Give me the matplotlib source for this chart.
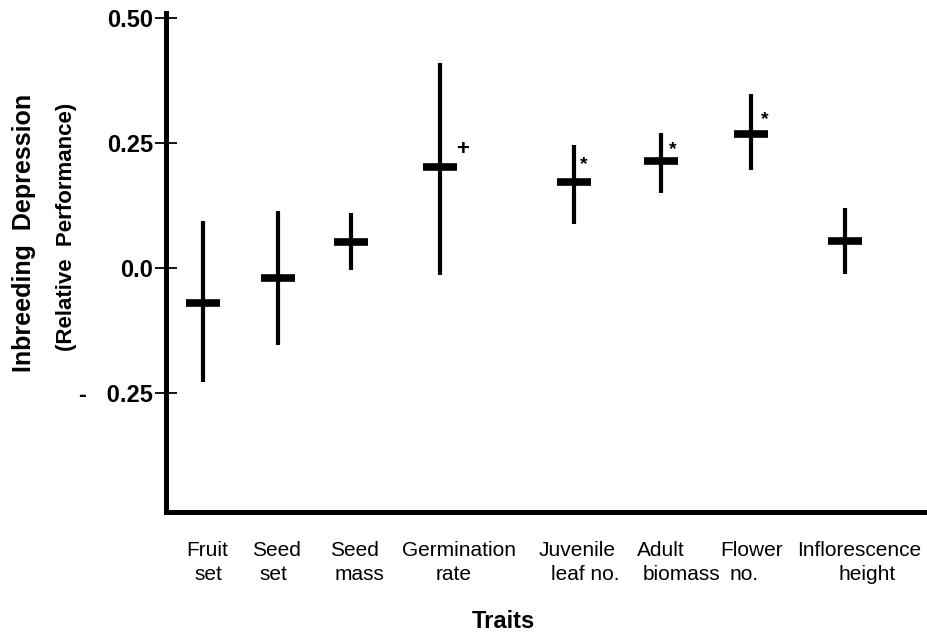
import numpy as np
import matplotlib
matplotlib.use("Agg")
import matplotlib.pyplot as plt

plt.rcParams['font.family'] = ['Liberation Sans', 'DejaVu Sans']

# data
traits_top = ["Fruit", "Seed", "Seed", "Germination", "Juvenile", "Adult", "Flower", "Inflorescence"]
traits_bottom = ["set", "set", "mass", "rate", "leaf no.", "biomass", "no.", "height"]
means = np.array([-0.069, -0.019, 0.053, 0.202, 0.172, 0.214, 0.269, 0.054])
lower = np.array([-0.227, -0.154, -0.004, -0.013, 0.089, 0.151, 0.196, -0.012])
upper = np.array([0.094, 0.115, 0.111, 0.409, 0.247, 0.271, 0.349, 0.121])
signif = ["", "", "", "+", "*", "*", "*", ""]

ytick_vals = [0.50, 0.25, 0.0, -0.25]
ytick_text = ["0.50", "0.25", "0.0", "-   0.25"]

# layout (not data)
xpos = [0.49, 1.48, 2.44, 3.61, 5.38, 6.52, 7.71, 8.95]
dx_top = [3, -1.5, 2.5, 13.5, 2, 0, 0, 10]        # points
dx_bottom = [3.5, -3.5, 6, 9.5, 8, 14.5, -5, 16]  # points
sig_off = [(0, 0), (0, 0), (0, 0), (16, 8.8), (7, 9.6), (8.5, 5.3), (10, 6.8), (0, 0)]
sig_size = {"+": 16, "*": 14}

fig = plt.figure(figsize=(9.28, 6.34), dpi=100)
ax = fig.add_axes([0.1789, 0.1924, 0.9968 - 0.1789, 0.9795 - 0.1924])

ax.errorbar(xpos, means, yerr=[means - lower, upper - means], fmt='none',
            ecolor='black', elinewidth=3, capsize=0)
ax.plot(xpos, means, ls='none', marker='_', ms=24, mew=5.5, color='black')

for i, s in enumerate(signif):
    if s:
        ax.annotate(s, xy=(xpos[i], means[i]), xytext=sig_off[i],
                    textcoords='offset points', ha='center', va='baseline',
                    fontsize=sig_size[s], fontweight='bold')

for i in range(len(xpos)):
    ax.annotate(traits_top[i], xy=(xpos[i], 0), xycoords=('data', 'axes fraction'),
                xytext=(dx_top[i], -31.7), textcoords='offset points',
                ha='center', va='baseline', fontsize=15, annotation_clip=False)
    ax.annotate(traits_bottom[i], xy=(xpos[i], 0), xycoords=('data', 'axes fraction'),
                xytext=(dx_bottom[i], -49), textcoords='offset points',
                ha='center', va='baseline', fontsize=15, annotation_clip=False)

ax.set_xlim(0, 10)
ax.set_ylim(-0.488, 0.51)
ax.set_xticks([])
ax.set_yticks(ytick_vals)
ax.set_yticklabels(ytick_text, fontsize=17, fontweight='bold')
ax.tick_params(axis='y', direction='inout', length=16.5, width=1.3, pad=1)

for side in ['top', 'right']:
    ax.spines[side].set_visible(False)
for side in ['left', 'bottom']:
    ax.spines[side].set_linewidth(3.6)

fig.text(503 / 928, 1 - 628 / 634, "Traits", ha='center', va='baseline',
         fontsize=17, fontweight='bold')
fig.text(24 / 928, 1 - 233 / 634, "Inbreeding  Depression", rotation=90,
         ha='center', va='center', fontsize=18, fontweight='bold')
fig.text(67 / 928, 1 - 227 / 634, "(Relative  Performance)", rotation=90,
         ha='center', va='center', fontsize=16, fontweight='bold')

fig.savefig("out.png", dpi=100)
